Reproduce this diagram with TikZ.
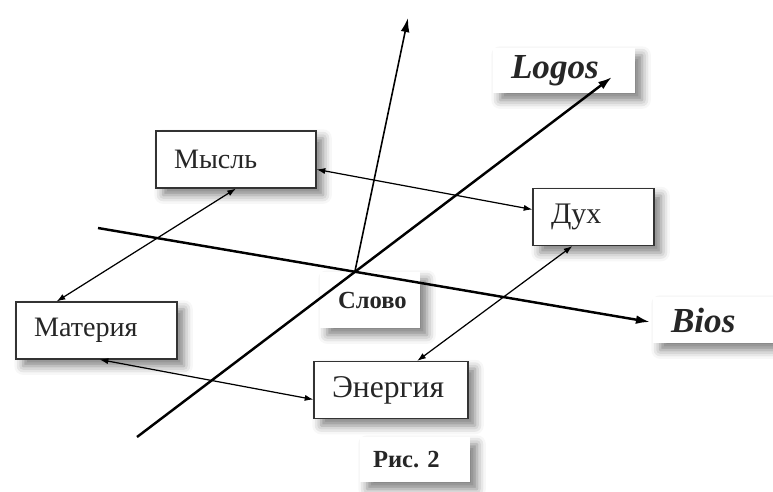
\documentclass[tikz,border=0pt]{standalone}
\usepackage{fontspec}
\setmainfont{Liberation Serif}
\usetikzlibrary{arrows.meta,shadows.blur}

\begin{document}
\begin{tikzpicture}[x=0.02cm,y=-0.02cm,
    concept/.style={draw=black!80,line width=0.6pt,fill=white,
      blur shadow={shadow xshift=4pt,shadow yshift=-4pt,shadow blur radius=5pt,shadow opacity=50},
      inner xsep=0.36cm,minimum height=1.14cm,align=left,text=black!85,
      font=\fontsize{16}{18}\selectfont},
    tag/.style={fill=white,
      blur shadow={shadow xshift=4pt,shadow yshift=-4pt,shadow blur radius=5pt,shadow opacity=50},
      inner xsep=0.36cm,align=left,text=black!85},
    axis/.style={line width=1.4pt,-{Latex[length=8pt,width=5pt]}},
    rel/.style={line width=0.7pt,{Latex[length=5pt,width=3.5pt]}-{Latex[length=5pt,width=3.5pt]}}]
  \useasboundingbox (0,0) rectangle (773,491);
  % labels
  \node[tag,text width=2.12cm,minimum height=0.9cm,font=\fontsize{20}{22}\selectfont\bfseries\itshape] (logos) at (564,70.5) {Logos};
  \node[tag,text width=1.68cm,minimum height=0.92cm,font=\fontsize{20}{22}\selectfont\bfseries\itshape] (bios) at (713,320) {Bios};
  \node[tag,text width=1.28cm,minimum height=1.12cm,font=\fontsize{14}{16}\selectfont\bfseries] (slovo) at (370,300) {Слово};
  \node[tag,text width=1.68cm,minimum height=0.9cm,inner xsep=0.26cm,font=\fontsize{14}{16}\selectfont\bfseries] (fig) at (415,459.5) {Рис.\ 2};
  % boxes
  \node[concept,text width=2.48cm] (mysl) at (236,159.5) {Мысль};
  \node[concept,text width=1.70cm,font=\fontsize{17}{19}\selectfont] (dukh) at (593.5,217) {Дух};
  \node[concept,text width=2.50cm] (materia) at (96.5,330.5) {Материя};
  \node[concept,text width=2.36cm,font=\fontsize{18}{20}\selectfont] (energy) at (391,390) {Энергия};
  % axes
  \coordinate (logosTail) at (137,437);
  \coordinate (logosHead) at (612,77);
  \coordinate (biosTail) at (98,228);
  \coordinate (biosHead) at (650,322);
  \coordinate (origin) at (355,271);
  \coordinate (upHead) at (408,18);
  \draw[axis] (logosTail) -- (logosHead);
  \draw[axis] (biosTail) -- (biosHead);
  \draw[axis,line width=0.9pt] (origin) -- (upHead);
  % relations
  \draw[rel] (mysl.south) -- (materia.144);
  \draw[rel] (mysl.-7) -- (dukh.173);
  \draw[rel] (materia.-84) -- (energy.187);
  \draw[rel] (energy.48) -- (dukh.234);
\end{tikzpicture}
\end{document}
